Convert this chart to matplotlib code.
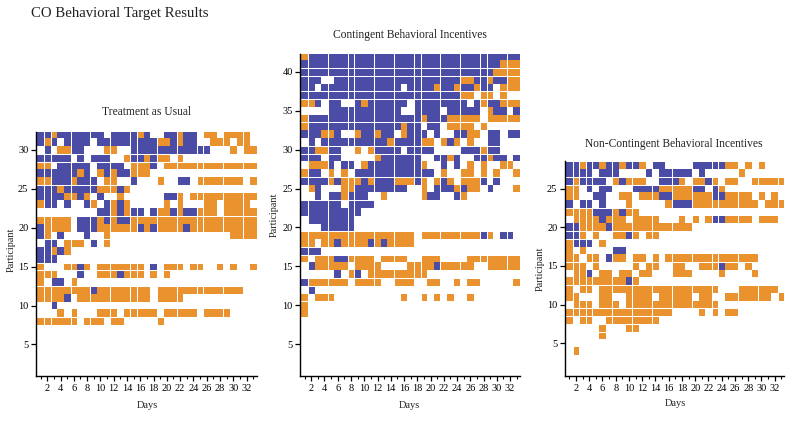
import numpy as np
import matplotlib
matplotlib.use("Agg")
import matplotlib.pyplot as plt
from matplotlib.colors import ListedColormap
from matplotlib.ticker import MultipleLocator

plt.rcParams['font.family'] = ['Liberation Serif', 'DejaVu Serif']

BLUE = '#4A4CA6'
ORANGE = '#E9922E'
n_days = 33

# rows listed from the highest participant down; groups of ten days
tau_top = 32
tau_rows = [
 "bbobbbbbbb .bbbbob..b bobb.oo.oo oo.",
 "bob.bbbb.b bbbbbbbboo bobb..ooo. oo.",
 ".b.oobb... oo..bbbbbb bbbbbb...o .oo",
 "bbbbb.b.bb b..obboboo .o",
 "oo.bbbbb.b bbb.ooob.o oooooooooo ooo",
 "bbbbbbob.o bobbooo",
 "oobbbobbb. oo..b...o. .bb.oooooo o.o",
 "bbbobbbbbo oobo",
 "bbbboobo.b ..o......b bo.ooooooo ooo",
 "obb.b..bo. bobo.....o .o...oo.oo oo.",
 ".........b bobobb.boo bobbooo.oo ooo",
 "ooooo.bbbo bobbooooo oooooooooo oooo",
 "boooo.bbbo oooooboboo oobooooooo ooo",
 "bo.b...b.. o......... .........o ooo",
 ".bb.ooo.b. o",
 "bbobo",
 "bbb",
 "o...oobo.o oooooo.b.o oo.oo..o.o ..o",
 "ooo...b..o oobooo.o.o",
 "o.bb.o",
 "oooooooobo ooooooo.oo oooooooooo o",
 "oooob.oooo ooooooo.oo oo",
 "..b",
 "...o.o...o oo.ooooo.o oooo.oooo",
 "oooooo.ooo .oo.....o",
]
tau_day_gaps = [1, 2, 5, 8, 11, 14, 15, 18, 21, 24, 25, 28, 31]
tau_row_gaps = [8.5, 12.5, 14.5, 15.5, 18.5, 21.5, 25.5, 28.5, 29.5]

cbi_top = 42
cbi_rows = [
 "obbbbbbbbb bbbbbbbbbb bbbbbbbbbb bbb",
 "bbbbbbbbbb bbbbbbbbbb bbbbbbbbbb ooo",
 "bbbbbbbbbb bbbbbbbbbb bbbbbbbbbo ooo",
 "bbb..bbbbb bbbbbbbbbb bbbboobbob boo",
 "bb.bbbbbbb bbbbb.bbbb obbobbobb. ooo",
 "bbbbbbbbbb bbbbbbbbbb bbbboo.oo. o..",
 "oob.bb..bo bbbbbb.bbb bbbbb.bobb ooo",
 "....bbbbbb bbbbb..bbb b.bbbbb.ob b.b",
 "obbbbbbbbb bbbbbbbbob bbooooo.oo ooo",
 "obbbbbbbbb bbbbbobb.b b.oooo.o.. ...",
 "bbboob..ob bobb.obbb. b..bboo.bb .bb",
 ".b.bbbbbbb bbbobbbboo .obo.o..bb ...",
 "bboobb..o. obbbb.bbbb ....bbbobb ...",
 "bbb.bb.... .obbbbbb.. bbob..bbob b.b",
 ".ooob.bb.o bbbbbbbbo. .b.b.o.o.. oo.",
 "obb.o.o.bb bbbbbbbbbb .o..oo.o.o ..o",
 "bbbbobooob obbbooobo. obo.ooob.b ...",
 ".ob...oobb bbbbbb..o. bbboboo.b. ..o",
 "..b.bbobbb ..o.....ob b..bo..... ...",
 "bbbbbb.bbb b",
 "bbbbbbbbb",
 ".bbbbbbb",
 "...bbbbb",
 "oooooooooo ooooooo.oo ooooooobo. bb",
 "oo.ooboooo boboooo",
 "bbb",
 "o.ooobbooo o.oooo..oo o....ooooo ooo",
 ".booooo.oo oo....oooo booooo..oo ooo",
 ".....b.ob. ooooooooo",
 "boooooo.oo oo..ooo..o o..o.oo... ..o",
 ".b",
 "o.ooo..... .....o..o. o.o..o",
 "o",
 "o",
]
cbi_day_gaps = [1, 4, 7, 8, 11, 14, 17, 18, 21, 24, 27, 28, 31]
cbi_row_gaps = [10.5, 12.5, 13.5, 16.5, 17.5, 19.5, 23.5, 26.5, 29.5, 30.5, 33.5,
                36.5, 37.5, 39.5, 40.5]

ncbi_top = 28
ncbi_rows = [
 "bbobbobbob bo.bb....b bbbboo.o.o ...",
 "bbbb.bbb.. ..b.bbbbb. b.....o...",
 "bobbbb.obo oo..bbbo.o obo.oo..oo ooo",
 "oo.b.bb... bbbbooooob b.bo",
 "oo..bb..oo .ooobboooo oobboooo.o .o.",
 "b.bb.b...o .....obbbo ooooooooo. ooo",
 "oooobbbobo o",
 ".oooobooo. oooo...o.o .obboooo.o oo",
 "bboooobooo ooooooooo",
 "bbo.o..oob o.oo",
 "obbb.o",
 "o.o....bb",
 "oo.oo.boo. oo.o.ooooo ooooooooo",
 "ooo.o..... o.oo..oo.. ooob" + "oo.o",
 ".oob.oo.oo .oo...ooo. ...o....o",
 "ooooooooob o",
 "o.oo.ooooo oooooooooo ooo...oooo oo",
 "oo...oo..o ooo.ooooo. oo..oooooo o.o",
 ".ooo.ooo.o oooooooooo ooo",
 "oooooooooo oooooo.... o.o.oo",
 "o.oo..oooo oooo",
 ".....o...o o",
 ".....o",
 "",
 ".o",
]
ncbi_day_gaps = [1, 2, 3, 4, 7, 10, 13, 16, 19, 22, 23, 26, 29, 32]
ncbi_row_gaps = [5.5, 6.5, 7.5, 8.5, 9.5, 12.5, 15.5, 18.5, 19.5, 22.5, 25.5, 26.5]

main_title = "CO Behavioral Target Results"
x_label = "Days"
y_label = "Participant"
panel_titles = ["Treatment as Usual", "Contingent Behavioral Incentives",
                "Non-Contingent Behavioral Incentives"]


def to_grid(rows):
    out = np.full((len(rows), n_days), np.nan)
    for i, row in enumerate(rows):
        for j, ch in enumerate(row.replace(' ', '')[:n_days]):
            if ch == 'b':
                out[i, j] = 0
            elif ch == 'o':
                out[i, j] = 1
    return out


W, H = 800, 422
fig = plt.figure(figsize=(W / 100, H / 100), dpi=100)
cmap = ListedColormap([BLUE, ORANGE])


def panel(rows, top, day_gaps, row_gaps, box, xlim, ylim, title, title_x, title_y,
          ylab_x, ylab_y):
    l, r, t, b = box
    ax = fig.add_axes([l / W, 1 - b / H, (r - l) / W, (b - t) / H])
    grid = to_grid(rows)
    xe = np.arange(n_days + 1) + 0.5
    ye = top + 0.5 - np.arange(len(rows) + 1)
    ax.pcolormesh(xe, ye, np.ma.masked_invalid(grid), cmap=cmap, vmin=0, vmax=1,
                  linewidth=0, antialiased=False)
    for d in day_gaps:
        ax.axvline(d + 0.5, color='white', lw=0.75, zorder=2)
    for y in row_gaps:
        ax.axhline(y, color='white', lw=0.75, zorder=2)
    ax.set_xlim(*xlim)
    ax.set_ylim(*ylim)
    ax.spines['top'].set_visible(False)
    ax.spines['right'].set_visible(False)
    ax.spines['left'].set_linewidth(1.0)
    ax.spines['bottom'].set_linewidth(1.0)
    ax.xaxis.set_major_locator(MultipleLocator(2))
    ax.xaxis.set_minor_locator(MultipleLocator(1))
    ax.yaxis.set_major_locator(MultipleLocator(5))
    ax.tick_params(axis='x', which='major', length=3.5, width=0.9, labelsize=7.5, pad=2.5)
    ax.tick_params(axis='x', which='minor', length=2, width=0.8)
    ax.tick_params(axis='y', which='major', length=3.5, width=0.9, labelsize=7.5, pad=2)
    fig.text(title_x / W, 1 - title_y / H, title, ha='center', va='center',
             fontsize=8.3, color='#222222')
    fig.text(ylab_x / W, 1 - ylab_y / H, y_label, rotation=90,
             ha='center', va='center', fontsize=7.3, color='#222222')
    return ax


a1 = panel(tau_rows, tau_top, tau_day_gaps, tau_row_gaps,
           (36, 256.5, 132, 376), (0.3, 33.5), (0.94, 32.3),
           panel_titles[0], 147, 112, 11, 250)
a2 = panel(cbi_rows, cbi_top, cbi_day_gaps, cbi_row_gaps,
           (300.3, 520, 53.5, 376), (0.35, 33.5), (0.9, 42.36),
           panel_titles[1], 410, 35, 274, 215)
a3 = panel(ncbi_rows, ncbi_top, ncbi_day_gaps, ncbi_row_gaps,
           (565, 784, 161.5, 376), (0.35, 33.4), (0.76, 28.5),
           panel_titles[2], 674, 144, 540, 269)

fig.text(147 / W, 1 - 405 / H, x_label, ha='center', va='center', fontsize=7.5, color='#222222')
fig.text(409 / W, 1 - 405 / H, x_label, ha='center', va='center', fontsize=7.5, color='#222222')
fig.text(675 / W, 1 - 404 / H, x_label, ha='center', va='center', fontsize=7.5, color='#222222')
fig.text(31 / W, 1 - 13 / H, main_title, ha='left', va='center', fontsize=10.6, color='#222222')

fig.savefig('out.png', dpi=100)
